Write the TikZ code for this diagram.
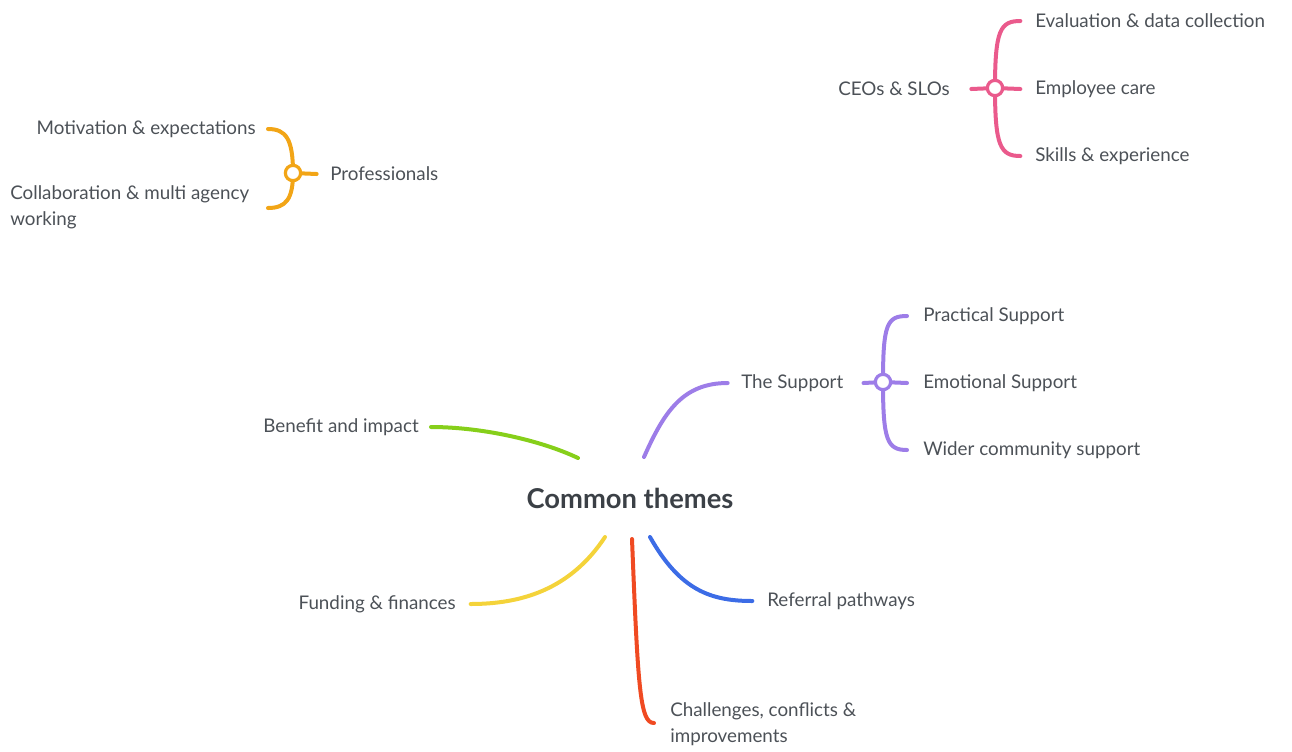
\documentclass[tikz,border=0pt]{standalone}
\usepackage{fontspec}
\setmainfont{Lato}
\definecolor{txt}{HTML}{4C5157}
\definecolor{ttl}{HTML}{3B4046}
\definecolor{cpink}{HTML}{EA5A8C}
\definecolor{corange}{HTML}{F2A516}
\definecolor{cpurple}{HTML}{9D7DE8}
\definecolor{cgreen}{HTML}{86CF1A}
\definecolor{cyellow}{HTML}{F4D33A}
\definecolor{cred}{HTML}{F04A22}
\definecolor{cblue}{HTML}{3C6CE6}
\begin{document}
\begin{tikzpicture}[x=0.75pt,y=-0.75pt,
  lbl/.style={font=\fontsize{14.1}{19.5}\selectfont, text=txt, inner sep=0pt},
  title/.style={font=\bfseries\fontsize{20.5}{22}\selectfont, text=ttl, inner sep=0pt},
  branch/.style={line width=3pt, line cap=round},
  hub/.style={circle, line width=2.4pt, fill=white, minimum size=11.5pt, inner sep=0pt}]
\useasboundingbox (0,0) rectangle (1292,751);

% central topic
\node[title] (ct) at (630,498) {Common themes};

% CEOs & SLOs group
\node[lbl, anchor=east] (ceo) at (950,89) {CEOs \& SLOs};
\node[lbl, anchor=west] (ev) at (1035,21) {Evaluation \& data collection};
\node[lbl, anchor=west] (ec) at (1035,89) {Employee care};
\node[lbl, anchor=west] (sk) at (1035,156) {Skills \& experience};
\coordinate (h1) at (995,88);
\draw[branch, cpink] ([xshift=16]ceo.east) -- (h1) -- ([xshift=-11]ec.west);
\draw[branch, cpink] (h1) .. controls +(0,-58) and +(-20,0) .. ([xshift=-11]ev.west);
\draw[branch, cpink] (h1) .. controls +(0,58) and +(-20,0) .. ([xshift=-11]sk.west);
\node[hub, draw=cpink] at (h1) {};

% Professionals group
\node[lbl, anchor=west] (pro) at (330,174) {Professionals};
\node[lbl, anchor=east] (mot) at (256,129) {Motivation \& expectations};
\node[lbl, anchor=north west, align=left] (col) at (10,185) {Collaboration \& multi agency\\working};
\coordinate (h2) at (293,173);
\coordinate (colend) at (268,208);
\draw[branch, corange] (h2) -- ([xshift=-10]pro.west);
\draw[branch, corange] (h2) .. controls +(0,-34) and +(18,0) .. ([xshift=9]mot.east);
\draw[branch, corange] (h2) .. controls +(0,26) and +(18,0) .. (colend);
\node[hub, draw=corange] at (h2) {};

% The Support group
\node[lbl, anchor=west] (sup) at (741,383) {The Support};
\node[lbl, anchor=west] (ps) at (923,316) {Practical Support};
\node[lbl, anchor=west] (es) at (923,383) {Emotional Support};
\node[lbl, anchor=west] (wc) at (923,450) {Wider community support};
\coordinate (h3) at (883,382);
\draw[branch, cpurple] ([xshift=-10]sup.west) .. controls +(-45,0) and +(20,-45) .. ([shift={(14,-41)}]ct.center);
\draw[branch, cpurple] ([xshift=15]sup.east) -- (h3) -- ([xshift=-12]es.west);
\draw[branch, cpurple] (h3) .. controls +(0,-58) and +(-20,0) .. ([xshift=-12]ps.west);
\draw[branch, cpurple] (h3) .. controls +(0,58) and +(-20,0) .. ([xshift=-12]wc.west);
\node[hub, draw=cpurple] at (h3) {};

% other main branches
\node[lbl, anchor=east] (bi) at (419,427) {Benefit and impact};
\node[lbl, anchor=east] (ff) at (456,604) {Funding \& finances};
\node[lbl, anchor=west] (rp) at (767,601) {Referral pathways};
\node[lbl, anchor=north west, align=left] (ch) at (670,702) {Challenges, conflicts \&\\improvements};
\coordinate (chend) at (654,723);

\draw[branch, cgreen] ([xshift=9]bi.east) .. controls +(50,0) and +(-38,-18) .. ([shift={(-52,-40)}]ct.center);
\draw[branch, cyellow] ([xshift=11]ff.east) .. controls +(50,0) and +(-35,53) .. ([shift={(-25,39)}]ct.center);
\draw[branch, cred] ([shift={(2,41)}]ct.center) .. controls +(6,150) and +(-14,0) .. (chend);
\draw[branch, cblue] ([shift={(20,39)}]ct.center) .. controls +(30,53) and +(-42,0) .. ([xshift=-11]rp.west);
\end{tikzpicture}
\end{document}
